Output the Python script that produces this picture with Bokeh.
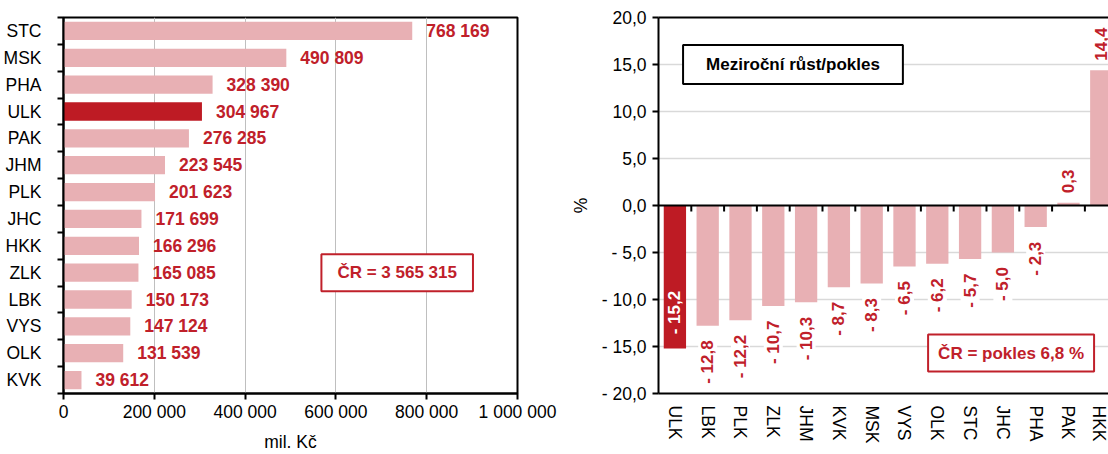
import math
from bokeh.plotting import figure
from bokeh.layouts import row
from bokeh.models import (Range1d, LinearAxis, FixedTicker, Grid, Span, Label,
                          ColumnDataSource)
from bokeh.core.properties import value
from bokeh.embed import file_html
from bokeh.resources import INLINE

# ---------------- data ----------------
regions = ["STC", "MSK", "PHA", "ULK", "PAK", "JHM", "PLK", "JHC", "HKK", "ZLK",
           "LBK", "VYS", "OLK", "KVK"]
amounts = [768169, 490809, 328390, 304967, 276285, 223545, 201623, 171699,
           166296, 165085, 150173, 147124, 131539, 39612]
x_ticks = [0, 200000, 400000, 600000, 800000, 1000000]
x_tick_labels = ["0", "200 000", "400 000", "600 000", "800 000", "1 000 000"]
x_title = "mil. Kč"
total_label = "ČR = 3 565 315"

growth_regions = ["ULK", "LBK", "PLK", "ZLK", "JHM", "KVK", "MSK", "VYS", "OLK",
                  "STC", "JHC", "PHA", "PAK", "HKK"]
growth = [-15.2, -12.8, -12.2, -10.7, -10.3, -8.7, -8.3, -6.5, -6.2, -5.7,
          -5.0, -2.3, 0.3, 14.4]
y_ticks = [-20, -15, -10, -5, 0, 5, 10, 15, 20]
y_tick_labels = ["- 20,0", "- 15,0", "- 10,0", "- 5,0", "0,0", "5,0", "10,0",
                 "15,0", "20,0"]
y_title = "%"
growth_title = "Meziroční růst/pokles"
growth_total = "ČR = pokles 6,8 %"
highlight = "ULK"

# ---------------- style ----------------
FONT = "Liberation Sans"
PALE = "#E8B0B4"
DARK = "#BE1B24"
RED = "#C0202A"
FS = "17.5px"


def fmt_int(v):
    return f"{v:,}".replace(",", " ")


def fmt_pct(v):
    s = f"{abs(v):.1f}".replace(".", ",")
    return ("- " + s) if v < 0 else s


# ---------------- left chart ----------------
n1 = len(regions)
p1 = figure(width=560, height=454,
            x_range=Range1d(0, 1000000), y_range=Range1d(n1 - 0.5, -0.5),
            x_axis_type=None, y_axis_type=None,
            toolbar_location=None, output_backend="svg",
            min_border_left=63, min_border_right=43,
            min_border_top=14, min_border_bottom=60)
p1.outline_line_color = "black"
p1.outline_line_width = 2
p1.background_fill_color = "white"

p1.add_layout(Grid(dimension=0, ticker=FixedTicker(ticks=x_ticks),
                   grid_line_color="#BFBFBF", grid_line_width=1))

xax = LinearAxis(ticker=FixedTicker(ticks=x_ticks),
                 major_label_overrides={t: l for t, l in zip(x_ticks, x_tick_labels)},
                 axis_label=x_title,
                 axis_line_width=2, major_tick_line_width=2,
                 major_tick_out=6, major_tick_in=0,
                 minor_tick_line_color=None,
                 major_label_standoff=2, axis_label_standoff=7,
                 major_label_text_font=FONT, major_label_text_font_size=FS,
                 major_label_text_color="black",
                 axis_label_text_font=FONT, axis_label_text_font_size=FS,
                 axis_label_text_font_style="normal",
                 axis_label_text_color="black")
p1.add_layout(xax, "below")

bounds1 = [i - 0.5 for i in range(n1 + 1)]
yax1 = LinearAxis(ticker=FixedTicker(ticks=list(range(n1)), minor_ticks=bounds1),
                  major_label_overrides={i: r for i, r in enumerate(regions)},
                  axis_line_width=2,
                  major_tick_line_color=None, major_tick_out=0, major_tick_in=0,
                  minor_tick_line_color="black", minor_tick_line_width=2,
                  minor_tick_out=6, minor_tick_in=0,
                  major_label_standoff=16,
                  major_label_text_font=FONT, major_label_text_font_size=FS,
                  major_label_text_color="black")
p1.add_layout(yax1, "left")

src1 = ColumnDataSource(dict(
    y=list(range(n1)), v=amounts,
    c=[DARK if r == highlight else PALE for r in regions],
    lab=[fmt_int(v) for v in amounts]))
p1.hbar(y="y", left=0, right="v", height=0.68, fill_color="c", line_color=None,
        source=src1)
p1.text(x="v", y="y", text="lab", source=src1, x_offset=14,
        text_align="left", text_baseline="middle",
        text_font=value(FONT), text_font_style="bold", text_font_size="17.5px",
        text_color=RED)

p1.add_layout(Label(x=735000, y=9, text=total_label,
                    text_align="center", text_baseline="middle",
                    text_font=FONT, text_font_size="17px", text_font_style="bold",
                    text_color=RED, background_fill_color="white",
                    border_line_color=RED, border_line_width=2,
                    padding=(16, 9)))

# ---------------- right chart ----------------
n2 = len(growth_regions)
p2 = figure(width=548, height=454,
            x_range=Range1d(-0.5, 13.22), y_range=Range1d(-20, 20),
            x_axis_type=None, y_axis_type=None,
            toolbar_location=None, output_backend="svg",
            min_border_left=98, min_border_right=0,
            min_border_top=17, min_border_bottom=61)
p2.outline_line_color = None
p2.background_fill_color = "white"

p2.add_layout(Grid(dimension=1, ticker=FixedTicker(ticks=[t for t in y_ticks if t != 0]),
                   grid_line_color="#D9D9D9", grid_line_width=1.5))

yax = LinearAxis(ticker=FixedTicker(ticks=y_ticks),
                 major_label_overrides={t: l for t, l in zip(y_ticks, y_tick_labels)},
                 axis_label=y_title,
                 axis_line_width=2, major_tick_line_width=2,
                 major_tick_out=6, major_tick_in=0,
                 minor_tick_line_color=None,
                 major_label_standoff=6, axis_label_standoff=8,
                 major_label_text_font=FONT, major_label_text_font_size=FS,
                 major_label_text_color="black",
                 axis_label_text_font=FONT, axis_label_text_font_size=FS,
                 axis_label_text_font_style="normal",
                 axis_label_text_color="black")
p2.add_layout(yax, "left")

top_ax = LinearAxis(ticker=FixedTicker(ticks=[]), axis_line_width=2,
                    major_tick_line_color=None, minor_tick_line_color=None,
                    major_tick_out=0, major_tick_in=0, major_label_standoff=0)
p2.add_layout(top_ax, "above")

cat_ax = LinearAxis(ticker=FixedTicker(ticks=list(range(n2))),
                    major_label_overrides={i: r for i, r in enumerate(growth_regions)},
                    major_label_orientation="vertical",
                    axis_line_width=2, major_tick_line_color=None,
                    major_tick_out=0, major_tick_in=0,
                    minor_tick_line_color=None, major_label_standoff=12,
                    major_label_text_font=FONT, major_label_text_font_size=FS,
                    major_label_text_color="black")
p2.add_layout(cat_ax, "below")

src2 = ColumnDataSource(dict(
    x=list(range(n2)), v=growth,
    c=[DARK if r == highlight else PALE for r in growth_regions]))
p2.vbar(x="x", bottom=0, top="v", width=0.68, fill_color="c", line_color=None,
        source=src2)

# data labels
lab_y, lab_align, lab_color, lab_bg = [], [], [], []
for r, v in zip(growth_regions, growth):
    if r == highlight:
        lab_y.append(v + 1.5); lab_align.append("left")
        lab_color.append("white"); lab_bg.append(DARK)
    elif v < 0:
        lab_y.append(v - 1.55); lab_align.append("right")
        lab_color.append(RED); lab_bg.append("white")
    else:
        lab_y.append(v + 1.0); lab_align.append("left")
        lab_color.append(RED); lab_bg.append("white")
src3 = ColumnDataSource(dict(x=list(range(n2)), y=lab_y, a=lab_align,
                             tc=lab_color, bg=lab_bg,
                             lab=[fmt_pct(v) for v in growth]))
p2.text(x="x", y="y", text="lab", source=src3, angle=math.pi / 2,
        text_align="a", text_baseline="middle",
        text_font=value(FONT), text_font_style="bold", text_font_size="17px",
        text_color="tc", background_fill_color="bg")

p2.add_layout(Span(location=0, dimension="width", line_color="black", line_width=2))
bounds2 = [i + 0.5 for i in range(n2 - 1)]
p2.segment(x0=bounds2, y0=[0] * len(bounds2), x1=bounds2, y1=[-0.65] * len(bounds2),
           line_color="black", line_width=2)

p2.add_layout(Label(x=3.6, y=15, text=growth_title,
                    text_align="center", text_baseline="middle",
                    text_font=FONT, text_font_size="17px", text_font_style="bold",
                    text_color="black", background_fill_color="white",
                    border_line_color="black", border_line_width=2,
                    padding=(23, 10)))
p2.add_layout(Label(x=10.25, y=-15.7, text=growth_total,
                    text_align="center", text_baseline="middle",
                    text_font=FONT, text_font_size="17px", text_font_style="bold",
                    text_color=RED, background_fill_color="white",
                    border_line_color=RED, border_line_width=2,
                    padding=(10, 9)))

layout = row(p1, p2)
open("out.html", "w").write(file_html(layout, INLINE))
